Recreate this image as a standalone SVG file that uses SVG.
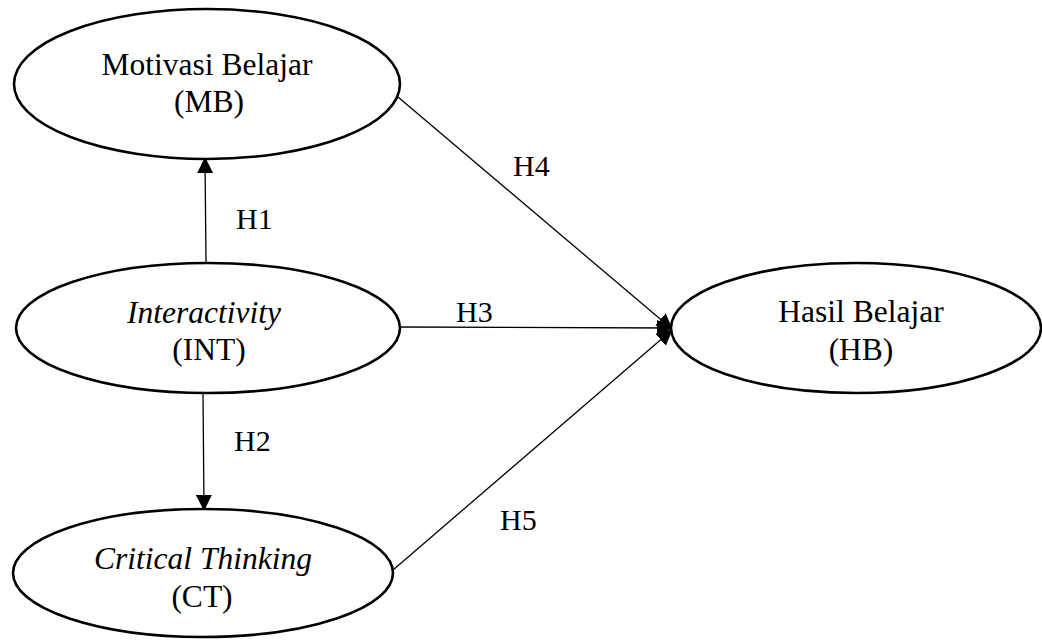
<svg xmlns="http://www.w3.org/2000/svg" width="1042" height="640" viewBox="0 0 1042 640">
<style>
.node ellipse{fill:#fff;stroke:#000;stroke-width:2.6}
.t{font-family:"Liberation Serif","Times New Roman",serif;font-size:31.5px;fill:#000;text-anchor:middle}
.i{font-style:italic}
.c line{stroke:#000;stroke-width:1.3;fill:none}
.lbl{font-family:"Liberation Serif","Times New Roman",serif;font-size:30px;fill:#000}
</style>
<defs>
<marker id="ah" markerUnits="userSpaceOnUse" markerWidth="16" markerHeight="16" refX="15" refY="8" orient="auto" viewBox="0 0 16 16">
<path d="M0,0 L16,8 L0,16 Z" fill="#000"/>
</marker>
</defs>
<g id="connectors" class="c">
<line x1="206" y1="262" x2="205" y2="158" marker-end="url(#ah)"/>
<line x1="203" y1="392" x2="204" y2="510" marker-end="url(#ah)"/>
<line x1="398" y1="327" x2="672" y2="328" marker-end="url(#ah)"/>
<line x1="398" y1="97" x2="672" y2="329" marker-end="url(#ah)"/>
<line x1="393" y1="570" x2="672" y2="330" marker-end="url(#ah)"/>
</g>
<g id="node-MB" class="node">
<ellipse cx="207" cy="84" rx="193" ry="75"/>
<text class="t" x="207" y="75">Motivasi Belajar</text>
<text class="t" x="209" y="112">(MB)</text>
</g>
<g id="node-INT" class="node">
<ellipse cx="208" cy="328" rx="192" ry="65"/>
<text class="t i" x="204" y="323">Interactivity</text>
<text class="t" x="209" y="360">(INT)</text>
</g>
<g id="node-CT" class="node">
<ellipse cx="203" cy="573" rx="190" ry="64"/>
<text class="t i" x="203" y="569">Critical Thinking</text>
<text class="t" x="202" y="607">(CT)</text>
</g>
<g id="node-HB" class="node">
<ellipse cx="856" cy="328" rx="185" ry="65"/>
<text class="t" x="861" y="322">Hasil Belajar</text>
<text class="t" x="861" y="360">(HB)</text>
</g>
<g id="labels">
<text class="lbl" x="236" y="229">H1</text>
<text class="lbl" x="234" y="451">H2</text>
<text class="lbl" x="456" y="322">H3</text>
<text class="lbl" x="513" y="176">H4</text>
<text class="lbl" x="500" y="530">H5</text>
</g>
</svg>
